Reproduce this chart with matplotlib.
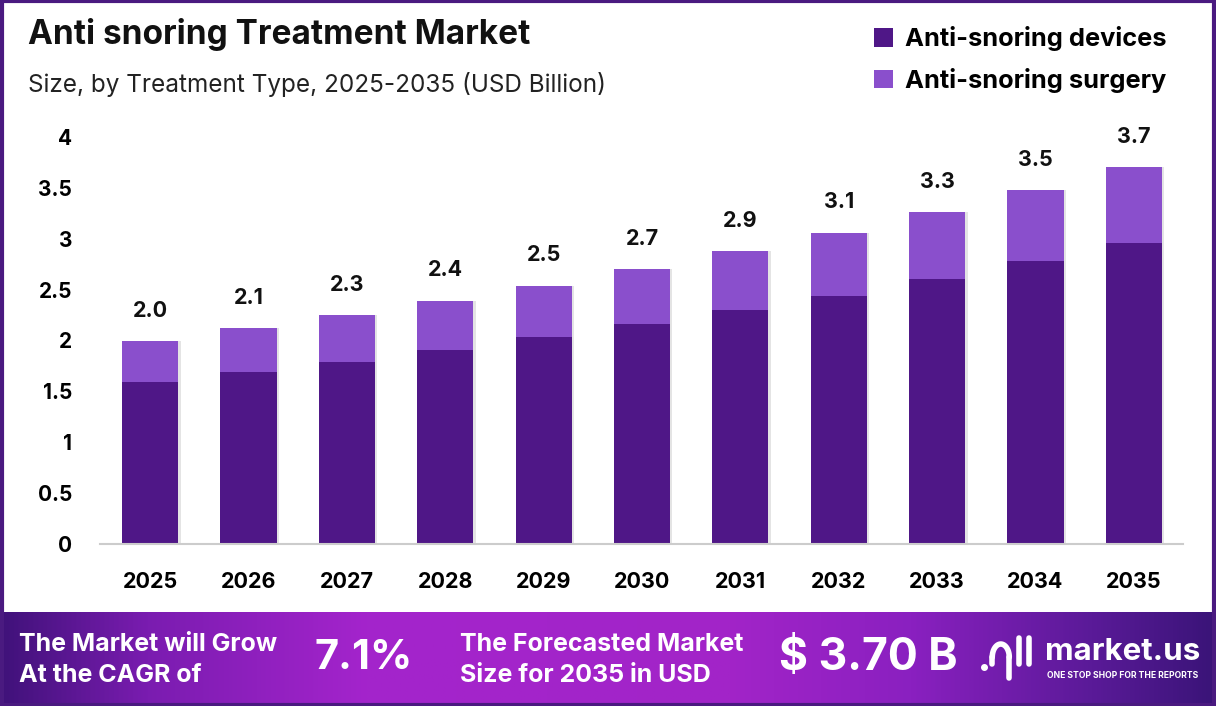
import numpy as np
import matplotlib.pyplot as plt
from matplotlib.colors import LinearSegmentedColormap
from matplotlib.patches import Rectangle

plt.rcParams['font.family'] = ['Inter', 'DejaVu Sans']

# Data
years = ['2025', '2026', '2027', '2028', '2029', '2030',
         '2031', '2032', '2033', '2034', '2035']
devices = [1.59, 1.69, 1.79, 1.91, 2.03, 2.16, 2.30, 2.44, 2.60, 2.78, 2.96]
surgery = [0.40, 0.43, 0.46, 0.48, 0.51, 0.54, 0.58, 0.62, 0.66, 0.70, 0.74]
total_labels = ['2.0', '2.1', '2.3', '2.4', '2.5', '2.7', '2.9', '3.1', '3.3', '3.5', '3.7']
yticks = [0, 0.5, 1, 1.5, 2, 2.5, 3, 3.5, 4]
ytick_labels = ['0', '0.5', '1', '1.5', '2', '2.5', '3', '3.5', '4']

c_dev = '#4f1787'
c_surg = '#8a4fcc'

fig = plt.figure(figsize=(12.16, 7.06), dpi=100)

# Chart
ax = fig.add_axes([0.0822, 0.2295, 0.8907, 0.5765])
x = np.arange(len(years))
totals = np.array(devices) + np.array(surgery)
w = 0.57
ax.bar(x + 0.025, totals, w, color='#e4e4e4', zorder=1)
ax.bar(x, devices, w, color=c_dev, zorder=2, label='Anti-snoring devices')
ax.bar(x, surgery, w, bottom=devices, color=c_surg, zorder=2, label='Anti-snoring surgery')
for i, t in enumerate(totals):
    ax.text(x[i], t + 0.2, total_labels[i], ha='center', va='bottom',
            fontsize=15.5, fontweight='bold', color='#111111')

ax.set_xlim(-0.51, 10.5)
ax.set_ylim(0, 4)
ax.set_xticks(x)
ax.set_xticklabels(years, fontsize=15.5, fontweight='bold')
ax.set_yticks(yticks)
ax.set_yticklabels(ytick_labels, fontsize=15, fontweight='bold')
ax.tick_params(length=0)
ax.tick_params(axis='x', pad=20)
ax.tick_params(axis='y', pad=20)
for s in ['top', 'right', 'left']:
    ax.spines[s].set_visible(False)
ax.spines['bottom'].set_color('#cccccc')
ax.spines['bottom'].set_linewidth(1.5)

# Titles
fig.text(0.023, 0.951, 'Anti snoring Treatment Market', fontsize=24,
         fontweight='bold', va='center', color='#111111')
fig.text(0.023, 0.881, 'Size, by Treatment Type, 2025-2035 (USD Billion)',
         fontsize=17.5, va='center', color='#222222')

# Legend
handles, labels = ax.get_legend_handles_labels()
fig.legend(handles, labels, loc='upper left', bbox_to_anchor=(0.7, 0.995),
           frameon=False, prop={'weight': 'bold', 'size': 18.3},
           handlelength=0.75, handleheight=0.75, handletextpad=0.45, labelspacing=0.65)

# Banner with gradient
bax = fig.add_axes([0, 0, 1, 0.133])
cmap = LinearSegmentedColormap.from_list('banner', [
    (0.0, '#40127a'), (0.12, '#7a1cb0'), (0.3, '#a424cc'),
    (0.6, '#a224c8'), (0.75, '#8a20c0'), (0.9, '#5a1a98'), (1.0, '#3a1478')])
grad = np.linspace(0, 1, 512).reshape(1, -1)
bax.imshow(grad, aspect='auto', cmap=cmap, extent=[0, 1, 0, 1])
bax.set_xlim(0, 1)
bax.set_ylim(0, 1)
bax.axis('off')

bax.text(0.016, 0.65, 'The Market will Grow', color='white', fontsize=18,
         fontweight='bold', va='center')
bax.text(0.016, 0.33, 'At the CAGR of', color='white', fontsize=18,
         fontweight='bold', va='center')
bax.text(0.299, 0.51, '7.1%', color='white', fontsize=30, fontweight='bold',
         va='center', ha='center')
bax.text(0.378, 0.65, 'The Forecasted Market', color='white', fontsize=18,
         fontweight='bold', va='center')
bax.text(0.378, 0.33, 'Size for 2035 in USD', color='white', fontsize=18,
         fontweight='bold', va='center')
bax.text(0.714, 0.51, '$ 3.70 B', color='white', fontsize=32, fontweight='bold',
         va='center', ha='center')
bax.text(0.859, 0.58, 'market.us', color='white', fontsize=22.5, fontweight='bold',
         va='center')
bax.text(0.861, 0.32, 'ONE STOP SHOP FOR THE REPORTS', color='white', fontsize=6.2,
         fontweight='bold', va='center')
# simple logo mark
t = np.linspace(0, np.pi, 30)
bax.plot(0.823 + 0.007 * np.cos(t), 0.52 + 0.14 * np.sin(t), color='white', lw=4,
         solid_capstyle='round')
bax.plot([0.816, 0.816], [0.52, 0.45], color='white', lw=4, solid_capstyle='round')
bax.plot([0.830, 0.830], [0.52, 0.3], color='white', lw=4, solid_capstyle='round')
bax.plot([0.838, 0.838], [0.45, 0.72], color='white', lw=4, solid_capstyle='round')
bax.plot([0.846, 0.846], [0.45, 0.72], color='white', lw=4, solid_capstyle='round')
bax.plot([0.809], [0.42], 'o', color='white', ms=4)

# Outer frame
fig.patches.append(Rectangle((0.0015, 0.0015), 0.997, 0.997, transform=fig.transFigure,
                             fill=False, edgecolor='#4a1a80', lw=3))

fig.savefig('out.png', dpi=100)
